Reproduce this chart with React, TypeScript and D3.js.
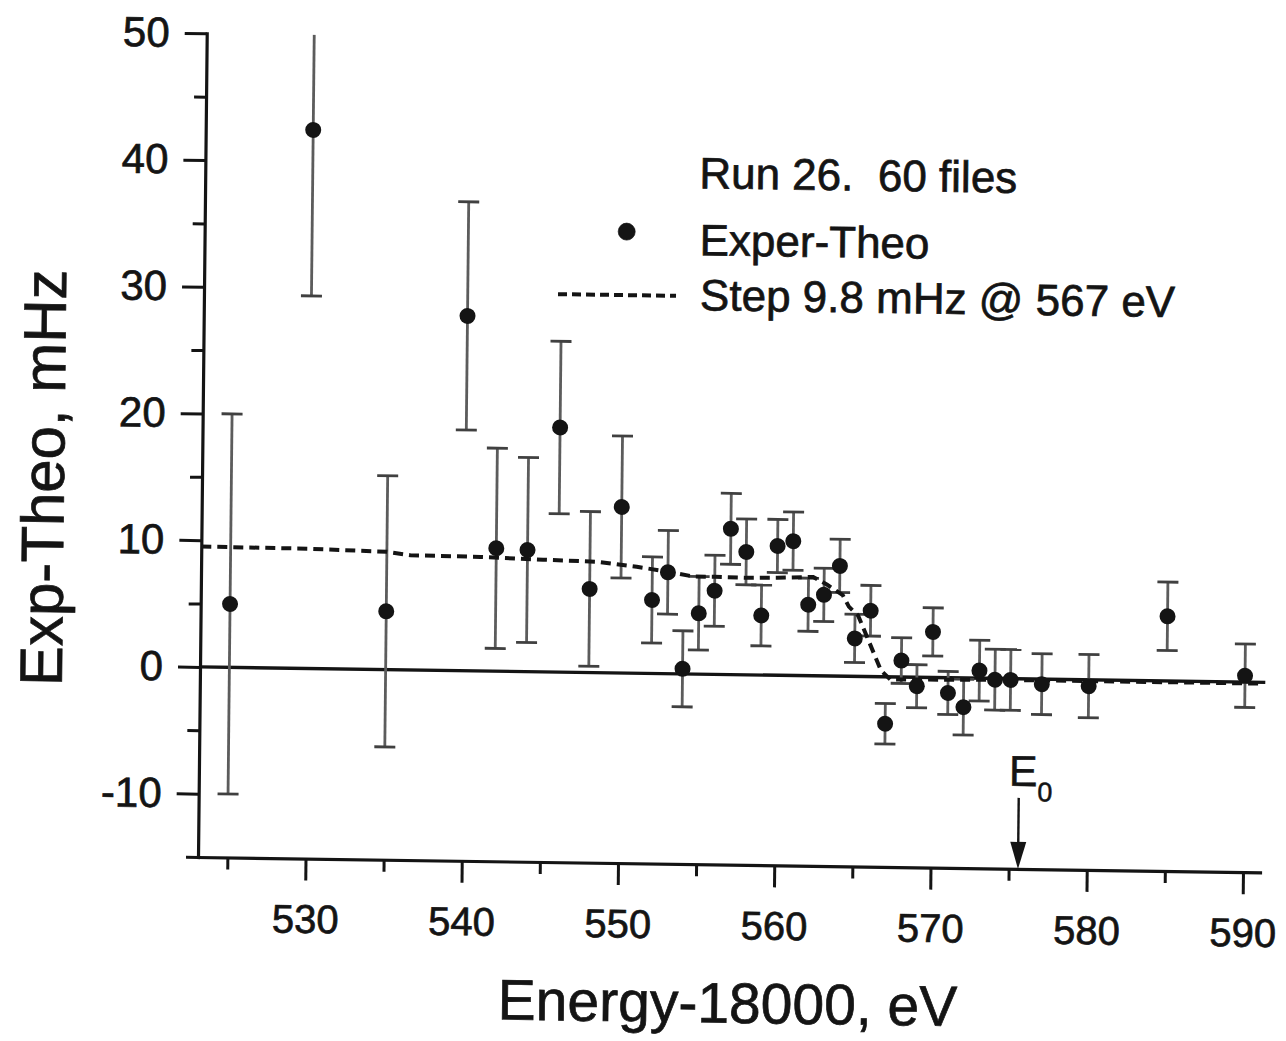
import React, { useEffect, useRef } from 'react';
import * as d3 from 'd3';

// ---- data ----
const energy = [525, 530, 535, 540, 542, 544, 546, 548, 550, 552, 553, 554, 555, 556, 557, 558, 559, 560, 561, 562, 563, 564, 565, 566, 567, 568, 569, 570, 571, 572, 573, 574, 575, 577, 580, 585, 590];
const value = [5.0, 42.5, 4.6, 28.0, 9.7, 9.6, 19.3, 6.6, 13.1, 5.8, 8.0, 0.4, 4.8, 6.6, 11.5, 9.7, 4.7, 10.2, 10.6, 5.6, 6.4, 8.7, 3.0, 5.2, -3.7, 1.3, -0.7, 3.6, -1.2, -2.3, 0.6, -0.1, -0.1, -0.4, -0.5, 5.1, 0.5];
const error = [15.0, 13.1, 10.7, 9.0, 7.9, 7.3, 6.8, 6.1, 5.6, 3.4, 3.3, 3.0, 2.9, 2.8, 2.8, 2.6, 2.4, 2.1, 2.3, 2.1, 2.1, 2.1, 1.9, 2.0, 1.6, 1.8, 1.7, 1.9, 1.7, 2.2, 2.4, 2.4, 2.4, 2.4, 2.5, 2.7, 2.5];

const stepEnergy = [523.12, 530, 535, 536.5, 541, 545, 548.5, 551, 553, 554.6, 556, 558, 560, 562.3, 563.2, 564.2, 564.6, 565.2, 566.7, 567.3, 575, 591.09];
const stepValue = [9.5, 9.45, 9.3, 9.05, 9.0, 8.85, 8.75, 8.4, 8.05, 7.7, 7.7, 7.65, 7.7, 7.8, 7.2, 6.4, 5.5, 4.8, 0.5, -0.2, -0.1, -0.1];

const zeroEnergy = [523.12, 591.3];
const zeroValue = [0, 0];

const xDomain = [523.12, 591.09];
const yDomain = [-15, 50];
const xMajorTicks = [530, 540, 550, 560, 570, 580, 590];
const xMinorTicks = [525, 535, 545, 555, 565, 575, 585];
const yMajorTicks = [-10, 0, 10, 20, 30, 40, 50];
const yMinorTicks = [-15, -5, 5, 15, 25, 35, 45];
const e0Energy = 575.6;

const legendTitle = 'Run 26.  60 files';
const legendPoints = 'Exper-Theo';
const legendStep = 'Step 9.8 mHz @ 567 eV';
const xTitle = 'Energy-18000, eV';
const yTitle = 'Exp-Theo, mHz';

// ---- layout ----
const W = 1286;
const H = 1041;
const M = { left: 198, right: 1260, top: 33.3, bottom: 857 };
const FONT = '"Liberation Sans", Arial, Helvetica, sans-serif';
const INK = '#141414';
const BAR = '#5c5c5c';
const TEXT_STROKE = 0.7;
// slight skew of the scanned page
const SKEW = 'matrix(1,0.0145,-0.0106,1,9.084,-2.871)';

export default function App() {
  const ref = useRef<SVGSVGElement>(null);

  useEffect(() => {
    const svg = d3.select(ref.current);
    svg.selectAll('*').remove();

    const x = d3.scaleLinear().domain(xDomain).range([M.left, M.right]);
    const y = d3.scaleLinear().domain(yDomain).range([M.bottom, M.top]);

    svg.append('rect').attr('width', W).attr('height', H).attr('fill', '#fff');

    const defs = svg.append('defs');
    defs
      .append('clipPath')
      .attr('id', 'plot-clip')
      .append('rect')
      .attr('x', M.left - 40)
      .attr('y', M.top)
      .attr('width', M.right - M.left + 80)
      .attr('height', M.bottom - M.top + 60);

    const g = svg.append('g').attr('transform', SKEW);

    const styleAxis = (sel: any, size: number) => {
      sel.select('.domain').attr('stroke', INK).attr('stroke-width', 3.2).attr('stroke-linecap', 'square');
      sel.selectAll('.tick line').attr('stroke', INK).attr('stroke-width', 3);
      sel
        .selectAll('.tick text')
        .attr('fill', INK)
        .attr('stroke', INK)
        .attr('stroke-width', TEXT_STROKE)
        .attr('font-family', FONT)
        .attr('font-size', size);
    };
    const fmt = (d: any) => String(d);

    // x axis
    const xMajor = g
      .append('g')
      .attr('transform', `translate(0,${M.bottom})`)
      .call(
        d3
          .axisBottom(x)
          .tickValues(xMajorTicks)
          .tickSize(22)
          .tickSizeOuter(0)
          .tickPadding(24)
          .tickFormat(fmt)
      );
    styleAxis(xMajor, 40);
    const xMinor = g
      .append('g')
      .attr('transform', `translate(0,${M.bottom})`)
      .call(d3.axisBottom(x).tickValues(xMinorTicks).tickSize(12).tickFormat(() => ''));
    xMinor.select('.domain').remove();
    styleAxis(xMinor, 40);

    // y axis
    const yMajor = g
      .append('g')
      .attr('transform', `translate(${M.left},0)`)
      .call(
        d3
          .axisLeft(y)
          .tickValues(yMajorTicks)
          .tickSize(22)
          .tickSizeOuter(0)
          .tickPadding(15)
          .tickFormat(fmt)
      );
    styleAxis(yMajor, 42);
    const yMinor = g
      .append('g')
      .attr('transform', `translate(${M.left},0)`)
      .call(d3.axisLeft(y).tickValues(yMinorTicks).tickSize(12).tickFormat(() => ''));
    yMinor.select('.domain').remove();
    styleAxis(yMinor, 42);

    // zero (theory) line
    const line = d3
      .line<number>()
      .x((d) => x(d))
      .y((_, i) => y(zeroValue[i]));
    g.append('path')
      .attr('d', line(zeroEnergy))
      .attr('fill', 'none')
      .attr('stroke', INK)
      .attr('stroke-width', 3.4);

    // error bars
    const bars = g.append('g').attr('clip-path', 'url(#plot-clip)');
    const capHalf = 10.5;
    energy.forEach((e, i) => {
      const cx = x(e);
      const yLo = y(value[i] - error[i]);
      const yHi = y(value[i] + error[i]);
      bars
        .append('line')
        .attr('x1', cx)
        .attr('x2', cx)
        .attr('y1', yLo)
        .attr('y2', yHi)
        .attr('stroke', BAR)
        .attr('stroke-width', 2.8);
      [yLo, yHi].forEach((yy) => {
        bars
          .append('line')
          .attr('x1', cx - capHalf)
          .attr('x2', cx + capHalf)
          .attr('y1', yy)
          .attr('y2', yy)
          .attr('stroke', '#404040')
          .attr('stroke-width', 2.8);
      });
    });

    // step model (dashed)
    const stepLine = d3
      .line<number>()
      .x((d) => x(d))
      .y((_, i) => y(stepValue[i]))
      .curve(d3.curveLinear);
    g.append('path')
      .attr('d', stepLine(stepEnergy))
      .attr('fill', 'none')
      .attr('stroke', INK)
      .attr('stroke-width', 4)
      .attr('stroke-dasharray', '10,6');

    // points
    g.append('g')
      .selectAll('circle')
      .data(energy)
      .join('circle')
      .attr('cx', (d) => x(d))
      .attr('cy', (_, i) => y(value[i]))
      .attr('r', 8)
      .attr('fill', INK);

    // legend
    const lg = g
      .append('g')
      .attr('font-family', FONT)
      .attr('fill', INK)
      .attr('stroke', INK)
      .attr('stroke-width', TEXT_STROKE);
    lg.append('text')
      .attr('x', 692)
      .attr('y', 181)
      .attr('font-size', 44)
      .style('white-space', 'pre')
      .text(legendTitle);
    lg.append('circle').attr('cx', 620).attr('cy', 225.5).attr('r', 8.5).attr('fill', INK);
    lg.append('text').attr('x', 693).attr('y', 248).attr('font-size', 44).text(legendPoints);
    lg.append('line')
      .attr('x1', 552)
      .attr('x2', 670)
      .attr('y1', 289)
      .attr('y2', 289)
      .attr('stroke', INK)
      .attr('stroke-width', 4)
      .attr('stroke-dasharray', '9,5');
    lg.append('text').attr('x', 694).attr('y', 303).attr('font-size', 44).text(legendStep);

    // E0 marker
    const ex = x(e0Energy);
    g.append('line')
      .attr('x1', ex)
      .attr('x2', ex)
      .attr('y1', 786)
      .attr('y2', 834)
      .attr('stroke', INK)
      .attr('stroke-width', 2.4);
    g.append('path')
      .attr('d', `M${ex - 8},${830} L${ex + 8},${830} L${ex},${M.bottom} Z`)
      .attr('fill', INK);
    const et = g
      .append('text')
      .attr('x', ex - 10)
      .attr('y', 774)
      .attr('font-family', FONT)
      .attr('font-size', 43)
      .attr('fill', INK)
      .attr('stroke', INK)
      .attr('stroke-width', 0.5);
    et.append('tspan').text('E');
    et.append('tspan').attr('font-size', 27).attr('dy', 15).text('0');

    // axis titles
    g.append('text')
      .attr('x', 729)
      .attr('y', 1015)
      .attr('text-anchor', 'middle')
      .attr('font-family', FONT)
      .attr('font-size', 57)
      .attr('fill', INK)
      .attr('stroke', INK)
      .attr('stroke-width', TEXT_STROKE)
      .text(xTitle);
    g.append('text')
      .attr('transform', 'translate(60,480) rotate(-90)')
      .attr('text-anchor', 'middle')
      .attr('font-family', FONT)
      .attr('font-size', 60)
      .attr('fill', INK)
      .attr('stroke', INK)
      .attr('stroke-width', TEXT_STROKE)
      .text(yTitle);
  }, []);

  return (
    <svg
      ref={ref}
      width={W}
      height={H}
      style={{ position: 'absolute', left: 0, top: 0, display: 'block' }}
    />
  );
}
